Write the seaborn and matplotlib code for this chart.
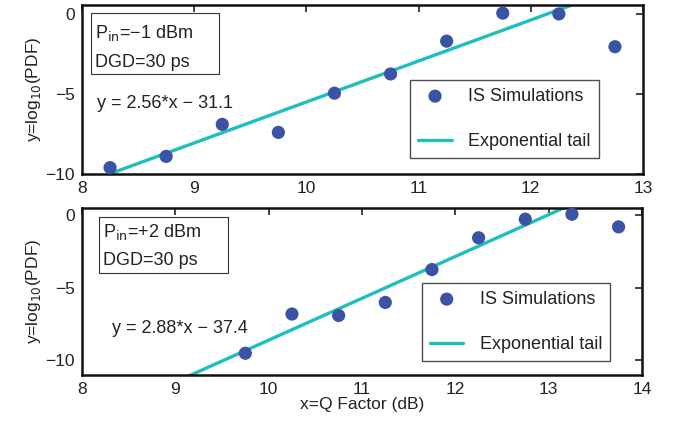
import numpy as np
import pandas as pd
import matplotlib
matplotlib.use("Agg")
import matplotlib.pyplot as plt
from matplotlib.patches import Rectangle
import seaborn as sns

# ---- data ----
q_top = [8.25, 8.75, 9.25, 9.75, 10.25, 10.75, 11.25, 11.75, 12.25, 12.75]
pdf_top = [-9.6, -8.9, -6.9, -7.4, -4.95, -3.75, -1.7, 0.05, 0.0, -2.05]
fit_top = (2.56, -31.1)
q_bot = [9.75, 10.25, 10.75, 11.25, 11.75, 12.25, 12.75, 13.25, 13.75]
pdf_bot = [-9.5, -6.8, -6.9, -6.0, -3.74, -1.55, -0.27, 0.07, -0.8]
fit_bot = (2.88, -37.4)
fit_x_top = [8.25, 12.75]
fit_x_bot = [9.0, 13.75]
xticks_top = [8, 9, 10, 11, 12, 13]
xticks_bot = [8, 9, 10, 11, 12, 13, 14]
yticks = [-10, -5, 0]

sns.set_style("white")
plt.rcParams['font.family'] = ['Liberation Sans', 'DejaVu Sans']

marker_color = "#3A53A4"
line_color = "#1FBFBF"
txt = "#222222"

fig = plt.figure(figsize=(6.8, 4.26), dpi=100)
ax1 = fig.add_axes([0.1206, 0.5915, 0.8250, 0.3965])
ax2 = fig.add_axes([0.1206, 0.1197, 0.8234, 0.3920])

def panel(ax, qx, py, fit, fx, xlim, ylim, xticks, pin, eq, eqpos, box, l1, l2, tx, legpos):
    fxa = np.array(fx)
    fdf = pd.DataFrame({"x": fxa, "y": fit[0] * fxa + fit[1]})
    sns.lineplot(data=fdf, x="x", y="y", ax=ax, color=line_color, lw=2.4,
                 label="Exponential tail", zorder=2)
    sdf = pd.DataFrame({"x": qx, "y": py})
    sns.scatterplot(data=sdf, x="x", y="y", ax=ax, color=marker_color, s=90,
                    edgecolor="none", label="IS Simulations", zorder=3, clip_on=False)
    ax.set_xlim(*xlim)
    ax.set_ylim(*ylim)
    ax.set_xticks(xticks)
    ax.set_yticks(yticks)
    ax.set_yticklabels(["\u221210", "\u22125", "0"])
    ax.tick_params(direction="in", top=True, right=True, length=5, width=1.2,
                   labelsize=12.5, colors=txt, pad=5)
    for sp in ax.spines.values():
        sp.set_linewidth(1.8)
        sp.set_color("#111111")
    ax.set_ylabel("y=log$_{10}$(PDF)", fontsize=12.5, color=txt, labelpad=2)
    ax.set_xlabel("")
    ax.add_patch(Rectangle((box[0], box[2]), box[1] - box[0], box[3] - box[2],
                           transform=ax.transAxes, fc="white", ec="#333333",
                           lw=0.8, zorder=4))
    ax.text(tx, l1, "P$_{\\rm in}$=" + pin + " dBm", transform=ax.transAxes,
            fontsize=13, color=txt, va="center", ha="left", zorder=5)
    ax.text(tx, l2, "DGD=30 ps", transform=ax.transAxes,
            fontsize=13, color=txt, va="center", ha="left", zorder=5)
    ax.text(eqpos[0], eqpos[1], eq, transform=ax.transAxes, fontsize=13,
            color=txt, va="center", ha="left")
    h, l = ax.get_legend_handles_labels()
    order = [l.index("IS Simulations"), l.index("Exponential tail")]
    leg = ax.legend([h[i] for i in order], [l[i] for i in order],
                    loc="lower left", bbox_to_anchor=legpos, fontsize=13,
                    frameon=True, fancybox=False, edgecolor="#222222",
                    labelspacing=1.55, handlelength=1.85, borderpad=0.45,
                    handletextpad=0.9, markerscale=1.0, borderaxespad=0)
    leg.get_frame().set_linewidth(1.0)
    for t in leg.get_texts():
        t.set_color(txt)

panel(ax1, q_top, pdf_top, fit_top, fit_x_top, (8, 13), (-10, 0.55), xticks_top,
      "\u22121", "y = 2.56*x \u2212 31.1", (0.027, 0.42),
      (0.016, 0.244, 0.592, 0.953), 0.834, 0.663, 0.023,
      (0.585, 0.095))
panel(ax2, q_bot, pdf_bot, fit_bot, fit_x_bot, (8, 14), (-11, 0.5), xticks_bot,
      "+2", "y = 2.88*x \u2212 37.4", (0.054, 0.28),
      (0.030, 0.261, 0.611, 0.946), 0.856, 0.683, 0.0375,
      (0.607, 0.084))
ax2.set_xlabel("x=Q Factor (dB)", fontsize=12.5, color=txt, labelpad=0)

fig.savefig("out.png", dpi=100)
